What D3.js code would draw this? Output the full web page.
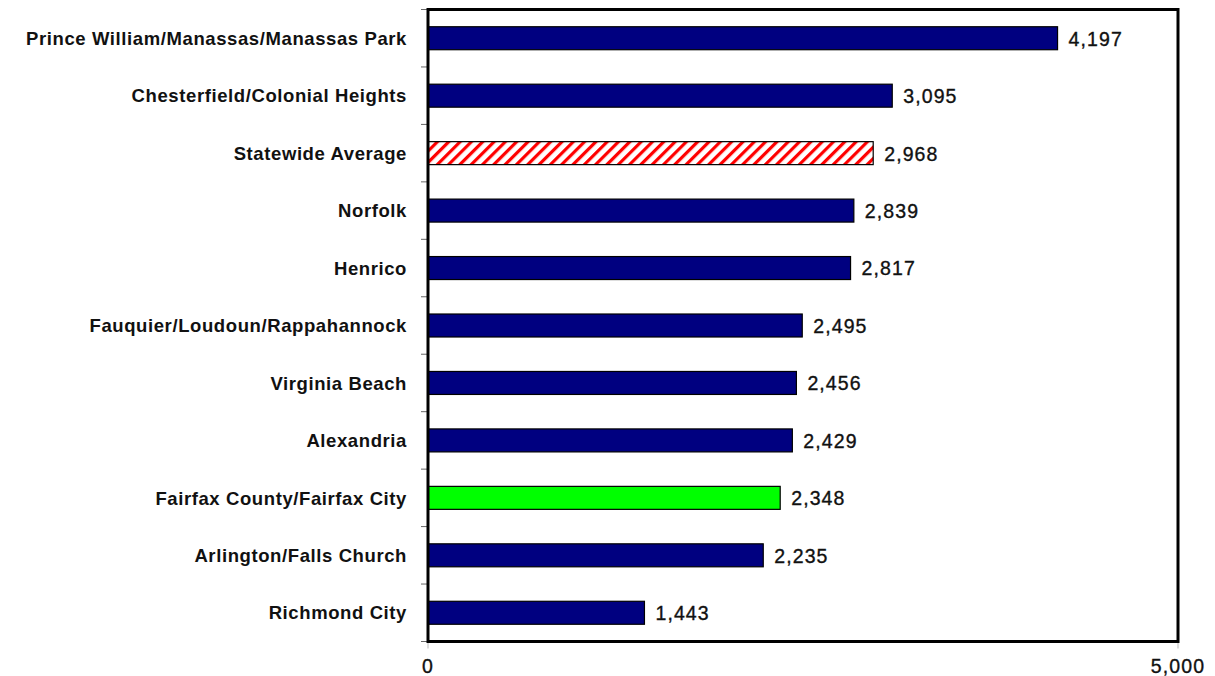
<!DOCTYPE html>
<html>
<head>
<meta charset="utf-8">
<script src="https://cdn.jsdelivr.net/npm/d3@7"></script>
<style>
  body { margin: 0; background: #fff; overflow: hidden; }
  svg { display: block; }
  .cat { font-family: "Liberation Sans", Arial, sans-serif; font-weight: bold; font-size: 18.5px; letter-spacing: 0.6px; fill: #111; }
  .val { font-family: "Liberation Sans", Arial, sans-serif; font-size: 19.5px; letter-spacing: 1.1px; fill: #111; stroke: #111; stroke-width: 0.35px; }
</style>
</head>
<body>
<svg id="chart" width="1215" height="676"></svg>
<script>
const categories = [
    "Prince William/Manassas/Manassas Park",
    "Chesterfield/Colonial Heights",
    "Statewide Average",
    "Norfolk",
    "Henrico",
    "Fauquier/Loudoun/Rappahannock",
    "Virginia Beach",
    "Alexandria",
    "Fairfax County/Fairfax City",
    "Arlington/Falls Church",
    "Richmond City"
];
const values = [4197, 3095, 2968, 2839, 2817, 2495, 2456, 2429, 2348, 2235, 1443];
const xTicks = [0, 5000];

const svg = d3.select("#chart");
const margin = {top: 9.5, right: 37, bottom: 34.5, left: 428};
const width = 1215, height = 676;

const x = d3.scaleLinear()
    .domain([0, 5000])
    .range([margin.left, width - margin.right]);

const y = d3.scaleBand()
    .domain(categories)
    .range([margin.top, height - margin.bottom])
    .paddingInner(0.6)
    .paddingOuter(0.3);

// hatch pattern for the statewide average
const defs = svg.append("defs");
const pat = defs.append("pattern")
    .attr("id", "hatch")
    .attr("patternUnits", "userSpaceOnUse")
    .attr("width", 8)
    .attr("height", 8)
    .attr("patternTransform", "rotate(45)");
pat.append("rect").attr("width", 8).attr("height", 8).attr("fill", "#fff");
pat.append("rect").attr("width", 3.2).attr("height", 8).attr("fill", "#ff0000");

function barFill(name) {
    if (name === "Statewide Average") return "url(#hatch)";
    if (name === "Fairfax County/Fairfax City") return "#00ff00";
    return "#000080";
}

// category boundary ticks
const step = y.step();
const bounds = d3.range(categories.length + 1).map(i => margin.top + i * step);
svg.append("g")
    .selectAll("line")
    .data(bounds)
    .join("line")
    .attr("x1", x(0) - 7)
    .attr("x2", x(0))
    .attr("y1", d => d)
    .attr("y2", d => d)
    .attr("stroke", "#666")
    .attr("stroke-width", 1);

// bars
const rowOffset = (step - y.bandwidth()) / 2;
svg.append("g")
    .selectAll("rect")
    .data(categories)
    .join("rect")
    .attr("x", x(0))
    .attr("y", (d, i) => margin.top + i * step + rowOffset)
    .attr("width", (d, i) => x(values[i]) - x(0))
    .attr("height", y.bandwidth())
    .attr("fill", d => barFill(d))
    .attr("stroke", "#000")
    .attr("stroke-width", 1.2);

// value labels
svg.append("g")
    .selectAll("text")
    .data(categories)
    .join("text")
    .attr("class", "val")
    .attr("x", (d, i) => x(values[i]) + 11)
    .attr("y", (d, i) => margin.top + (i + 0.5) * step)
    .attr("dy", "0.38em")
    .text((d, i) => d3.format(",")(values[i]));

// category labels
svg.append("g")
    .selectAll("text")
    .data(categories)
    .join("text")
    .attr("class", "cat")
    .attr("x", x(0) - 21)
    .attr("y", (d, i) => margin.top + (i + 0.5) * step)
    .attr("dy", "0.36em")
    .attr("text-anchor", "end")
    .text(d => d);

// x axis ticks and labels
const bottom = height - margin.bottom;
svg.append("g")
    .selectAll("line")
    .data(xTicks)
    .join("line")
    .attr("x1", d => x(d))
    .attr("x2", d => x(d))
    .attr("y1", bottom)
    .attr("y2", bottom + 7)
    .attr("stroke", "#bbb");
svg.append("g")
    .selectAll("text")
    .data(xTicks)
    .join("text")
    .attr("class", "val")
    .attr("x", d => x(d))
    .attr("y", 673)
    .attr("text-anchor", "middle")
    .text(d => d3.format(",")(d));

// plot frame
svg.append("rect")
    .attr("x", x(0))
    .attr("y", margin.top)
    .attr("width", x(5000) - x(0))
    .attr("height", bottom - margin.top)
    .attr("fill", "none")
    .attr("stroke", "#000")
    .attr("stroke-width", 3);
</script>
</body>
</html>
